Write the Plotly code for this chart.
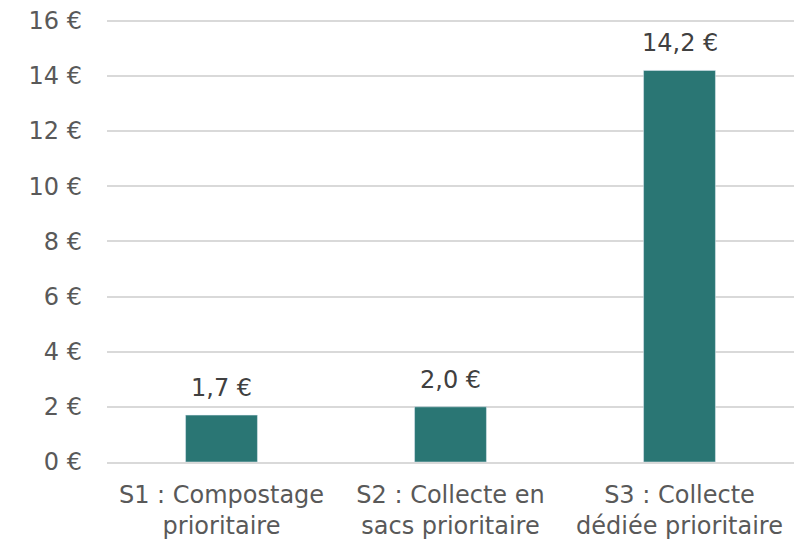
import plotly.graph_objects as go

# Scenario labels and cost per inhabitant (€)
scenarios = [
    "S1 : Compostage<br>prioritaire",
    "S2 : Collecte en<br>sacs prioritaire",
    "S3 : Collecte<br>dédiée prioritaire",
]
costs = [1.7, 2.0, 14.2]
y_ticks = [0, 2, 4, 6, 8, 10, 12, 14, 16]
y_tick_labels = [f"{v} €" for v in y_ticks]

fig = go.Figure()

fig.add_trace(go.Bar(
    x=scenarios,
    y=costs,
    marker=dict(color="#2a7674"),
    hoverinfo="skip",
))

# value labels above the bars
for x, y in zip(scenarios, costs):
    fig.add_annotation(
        x=x, y=y,
        text=f"{y:.1f} €".replace(".", ","),
        showarrow=False,
        yanchor="middle",
        yshift=27,
        font=dict(size=24, color="#404040"),
    )

fig.update_layout(
    width=796,
    height=541,
    margin=dict(l=107, r=2, t=18, b=79),
    plot_bgcolor="white",
    paper_bgcolor="white",
    font=dict(family="DejaVu Sans, Verdana, sans-serif", size=24, color="#595959"),
    bargap=0.686,
    showlegend=False,
    xaxis=dict(
        showgrid=False,
        showline=True,
        linecolor="#d9d9d9",
        linewidth=2,
        automargin=False,
        ticklabelstandoff=10,
        tickfont=dict(size=24, color="#595959"),
    ),
    yaxis=dict(
        range=[0, 16.1],
        tickvals=y_ticks,
        ticktext=y_tick_labels,
        showgrid=True,
        gridcolor="#d9d9d9",
        gridwidth=2,
        zeroline=False,
        automargin=False,
        ticklabelstandoff=24,
        tickfont=dict(size=24, color="#595959"),
    ),
)

fig.write_html(
    "out.html",
    config={"displayModeBar": False},
    post_script="document.body.style.margin='0';",
)
